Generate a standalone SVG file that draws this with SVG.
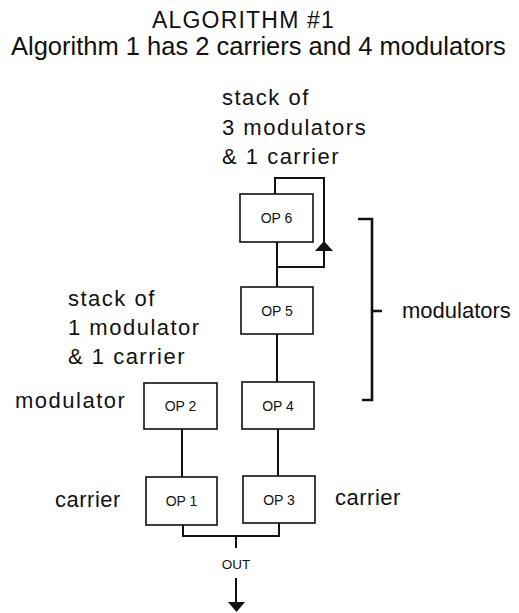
<svg xmlns="http://www.w3.org/2000/svg" width="519" height="613" viewBox="0 0 519 613">
<style>
text{font-family:"Liberation Sans",Arial,sans-serif;fill:#111}
.lbl{font-size:22px;letter-spacing:1.5px}
.lbs{font-size:22px;letter-spacing:0.5px}
.op{font-size:14px;text-anchor:middle}
.box{fill:#fff;stroke:#111;stroke-width:1.6}
.ln{fill:none;stroke:#111;stroke-width:2}
.br{fill:none;stroke:#111;stroke-width:2.6}
</style>
<rect width="519" height="613" fill="#fff"/>
<text x="152" y="28" style="font-size:23px;letter-spacing:1.2px">ALGORITHM #1</text>
<text x="11" y="55" style="font-size:25.5px">Algorithm 1 has 2 carriers and 4 modulators</text>
<text class="lbl" x="222" y="105">stack of</text>
<text class="lbl" x="222" y="135">3 modulators</text>
<text class="lbl" x="222" y="164">&amp; 1 carrier</text>
<text class="lbl" x="68" y="306">stack of</text>
<text class="lbl" x="68" y="335">1 modulator</text>
<text class="lbl" x="68" y="364">&amp; 1 carrier</text>
<text class="lbl" x="15" y="408">modulator</text>
<text class="lbs" x="55" y="507">carrier</text>
<text class="lbs" x="335" y="505">carrier</text>
<text x="402" y="318" style="font-size:22px">modulators</text>
<g id="connectors">
<path class="ln" d="M277 242 V287"/>
<path class="ln" d="M277 242 V267 H324 V178 H275 V194"/>
<polygon points="324,241 315,251 333,251" fill="#111"/>
<path class="ln" d="M277 334 V382"/>
<path class="ln" d="M278 429 V476"/>
<path class="ln" d="M182 429 V477"/>
<path class="ln" d="M183 525 V536 H279 V523"/>
<path class="ln" d="M236 536 V548"/>
<path class="ln" d="M236 578 V604"/>
<polygon points="228,602 245,602 236.5,612" fill="#111"/>
<text x="236" y="569" style="font-size:13.5px;text-anchor:middle">OUT</text>
<path class="br" d="M358 219 H372 V400 H362 M372 311 H382"/>
</g>
<g id="op6"><rect class="box" x="240" y="194" width="73" height="48"/><text class="op" x="276.5" y="223">OP 6</text></g>
<g id="op5"><rect class="box" x="241" y="287" width="72" height="47"/><text class="op" x="277" y="316">OP 5</text></g>
<g id="op4"><rect class="box" x="242" y="382" width="72" height="47"/><text class="op" x="278" y="411">OP 4</text></g>
<g id="op3"><rect class="box" x="243" y="476" width="72" height="47"/><text class="op" x="279" y="505">OP 3</text></g>
<g id="op2"><rect class="box" x="144" y="383" width="73" height="46"/><text class="op" x="180.5" y="411">OP 2</text></g>
<g id="op1"><rect class="box" x="146" y="477" width="71" height="48"/><text class="op" x="181.5" y="506">OP 1</text></g>
</svg>
